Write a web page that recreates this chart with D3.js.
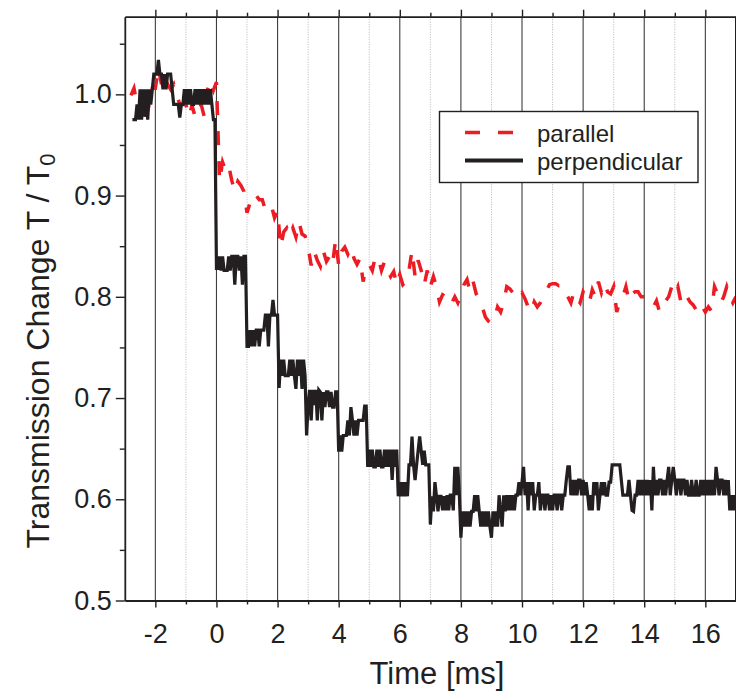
<!DOCTYPE html>
<html>
<head>
<meta charset="utf-8">
<script src="https://cdn.jsdelivr.net/npm/d3@7"></script>
<style>
  body { margin: 0; background: #fff; }
  svg { display: block; }
</style>
</head>
<body>
<div id="chart"></div>
<script>

//--------------------------------------
// DATA
//--------------------------------------

var xMajorTicks = [-2, 0, 2, 4, 6, 8, 10, 12, 14, 16];
var xMinorTicks = [-1, 1, 3, 5, 7, 9, 11, 13, 15];
var yMajorTicks = [0.5, 0.6, 0.7, 0.8, 0.9, 1.0];
var yMinorTicks = [0.55, 0.65, 0.75, 0.85, 0.95, 1.05];

var seriesNames = ["parallel", "perpendicular"];

// [time in ms, T / T0]
var parallel = [
  [-2.8,0.999],[-2.7,1.006],[-2.6,0.990],[-2.5,0.978],[-2.4,0.990],[-2.3,0.978],[-2.2,0.990],[-2.1,1.006],[-2.0,1.006],[-1.9,1.026],
  [-1.8,1.010],[-1.7,1.020],[-1.6,1.010],[-1.5,1.005],[-1.4,1.010],[-1.3,1.000],[-1.2,0.990],[-1.1,0.990],[-1.0,0.990],[-0.9,0.978],
  [-0.8,0.989],[-0.7,0.978],[-0.6,0.990],[-0.5,0.990],[-0.4,0.978],[-0.3,1.004],[-0.2,1.014],[-0.1,1.004],[0.0,1.012],[0.1,0.914],
  [0.2,0.933],[0.3,0.925],[0.4,0.930],[0.5,0.915],[0.6,0.904],[0.7,0.914],[0.8,0.910],[0.9,0.904],[1.0,0.883],[1.1,0.893],
  [1.2,0.902],[1.3,0.900],[1.4,0.896],[1.5,0.896],[1.6,0.886],[1.7,0.886],[1.8,0.890],[1.9,0.878],[2.0,0.885],[2.1,0.849],
  [2.2,0.864],[2.3,0.868],[2.4,0.860],[2.5,0.868],[2.6,0.859],[2.7,0.874],[2.8,0.862],[2.9,0.860],[3.0,0.849],[3.1,0.831],
  [3.2,0.845],[3.3,0.836],[3.4,0.830],[3.5,0.845],[3.6,0.835],[3.7,0.840],[3.8,0.832],[3.9,0.857],[4.0,0.831],[4.1,0.845],
  [4.2,0.849],[4.3,0.842],[4.4,0.849],[4.5,0.838],[4.6,0.832],[4.7,0.838],[4.8,0.815],[4.9,0.830],[5.0,0.832],[5.1,0.826],
  [5.2,0.840],[5.3,0.838],[5.4,0.826],[5.5,0.835],[5.6,0.826],[5.7,0.820],[5.8,0.825],[5.9,0.812],[6.0,0.822],[6.1,0.812],
  [6.2,0.815],[6.3,0.826],[6.4,0.846],[6.5,0.820],[6.6,0.836],[6.7,0.826],[6.8,0.812],[6.9,0.826],[7.0,0.810],[7.1,0.820],
  [7.2,0.810],[7.3,0.795],[7.4,0.802],[7.5,0.800],[7.6,0.802],[7.7,0.794],[7.8,0.800],[7.9,0.794],[8.0,0.802],[8.1,0.812],
  [8.2,0.817],[8.3,0.805],[8.4,0.815],[8.5,0.803],[8.6,0.797],[8.7,0.790],[8.8,0.780],[8.9,0.776],[9.0,0.774],[9.1,0.778],
  [9.2,0.790],[9.3,0.785],[9.4,0.794],[9.5,0.810],[9.6,0.808],[9.7,0.804],[9.8,0.806],[9.9,0.800],[10.0,0.804],[10.1,0.798],
  [10.2,0.790],[10.3,0.785],[10.4,0.795],[10.5,0.790],[10.6,0.794],[10.7,0.800],[10.8,0.806],[10.9,0.812],[11.0,0.813],[11.1,0.813],
  [11.2,0.811],[11.3,0.812],[11.4,0.805],[11.5,0.800],[11.6,0.794],[11.7,0.805],[11.8,0.798],[11.9,0.794],[12.0,0.805],[12.1,0.800],
  [12.2,0.794],[12.3,0.807],[12.4,0.800],[12.5,0.815],[12.6,0.804],[12.7,0.813],[12.8,0.805],[12.9,0.803],[13.0,0.810],[13.1,0.785],
  [13.2,0.795],[13.3,0.800],[13.4,0.810],[13.5,0.796],[13.6,0.803],[13.7,0.805],[13.8,0.805],[13.9,0.800],[14.0,0.800],[14.1,0.798],
  [14.2,0.795],[14.3,0.790],[14.4,0.796],[14.5,0.785],[14.6,0.793],[14.7,0.796],[14.8,0.800],[14.9,0.810],[15.0,0.803],[15.1,0.810],
  [15.2,0.795],[15.3,0.803],[15.4,0.800],[15.5,0.795],[15.6,0.792],[15.7,0.787],[15.8,0.783],[15.9,0.790],[16.0,0.785],[16.1,0.790],
  [16.2,0.786],[16.3,0.810],[16.4,0.803],[16.5,0.794],[16.6,0.800],[16.7,0.810],[16.8,0.800],[16.9,0.794],[17.0,0.800]
];

var perpendicular = [
  [-2.75,0.975],[-2.70,0.975],[-2.65,0.975],[-2.60,0.990],[-2.55,0.975],[-2.50,1.005],[-2.45,0.975],[-2.40,1.005],[-2.35,0.978],[-2.30,1.005],
  [-2.25,0.975],[-2.20,1.005],[-2.15,0.990],[-2.10,1.005],[-2.05,1.020],[-2.00,1.020],[-1.95,1.020],[-1.90,1.034],[-1.85,1.020],[-1.80,1.020],
  [-1.75,1.005],[-1.70,1.020],[-1.65,1.005],[-1.60,1.020],[-1.55,1.020],[-1.50,1.020],[-1.45,1.005],[-1.40,0.990],[-1.35,0.990],[-1.30,0.990],
  [-1.25,0.990],[-1.20,0.977],[-1.15,0.990],[-1.10,0.990],[-1.05,1.005],[-1.00,0.990],[-0.95,1.005],[-0.90,0.990],[-0.85,1.005],[-0.80,0.990],
  [-0.75,0.990],[-0.70,1.005],[-0.65,0.990],[-0.60,1.005],[-0.55,0.990],[-0.50,1.005],[-0.45,0.990],[-0.40,1.005],[-0.35,0.990],[-0.30,1.005],
  [-0.25,0.990],[-0.20,1.005],[-0.15,0.990],[-0.10,0.975],[-0.05,0.975],[0.00,0.828],[0.05,0.828],[0.10,0.840],[0.15,0.826],[0.20,0.840],
  [0.25,0.826],[0.30,0.826],[0.35,0.826],[0.40,0.840],[0.45,0.826],[0.50,0.840],[0.55,0.840],[0.60,0.812],[0.65,0.840],[0.70,0.840],
  [0.75,0.826],[0.80,0.840],[0.85,0.812],[0.90,0.840],[0.95,0.840],[1.00,0.751],[1.05,0.751],[1.10,0.767],[1.15,0.751],[1.20,0.767],
  [1.25,0.751],[1.30,0.767],[1.35,0.767],[1.40,0.751],[1.45,0.767],[1.50,0.767],[1.55,0.767],[1.60,0.782],[1.65,0.782],[1.70,0.751],
  [1.75,0.782],[1.80,0.782],[1.85,0.797],[1.90,0.782],[1.95,0.782],[2.00,0.782],[2.05,0.710],[2.10,0.738],[2.15,0.722],[2.20,0.738],
  [2.25,0.722],[2.30,0.722],[2.35,0.722],[2.40,0.738],[2.45,0.722],[2.50,0.738],[2.55,0.722],[2.60,0.709],[2.65,0.738],[2.70,0.722],
  [2.75,0.738],[2.80,0.709],[2.85,0.738],[2.90,0.722],[2.95,0.663],[3.00,0.693],[3.05,0.708],[3.10,0.678],[3.15,0.708],[3.20,0.693],
  [3.25,0.708],[3.30,0.678],[3.35,0.708],[3.40,0.706],[3.45,0.678],[3.50,0.706],[3.55,0.691],[3.60,0.706],[3.65,0.706],[3.70,0.691],
  [3.75,0.706],[3.80,0.691],[3.85,0.691],[3.90,0.706],[3.95,0.706],[4.00,0.647],[4.05,0.663],[4.10,0.647],[4.15,0.663],[4.20,0.663],
  [4.25,0.663],[4.30,0.678],[4.35,0.663],[4.40,0.691],[4.45,0.678],[4.50,0.663],[4.55,0.678],[4.60,0.663],[4.65,0.678],[4.70,0.678],
  [4.75,0.678],[4.80,0.678],[4.85,0.692],[4.90,0.692],[4.95,0.632],[5.00,0.649],[5.05,0.632],[5.10,0.649],[5.15,0.632],[5.20,0.632],
  [5.25,0.649],[5.30,0.632],[5.35,0.649],[5.40,0.632],[5.45,0.632],[5.50,0.649],[5.55,0.632],[5.60,0.649],[5.65,0.632],[5.70,0.649],
  [5.75,0.619],[5.80,0.649],[5.85,0.632],[5.90,0.649],[5.95,0.603],[6.00,0.617],[6.05,0.603],[6.10,0.617],[6.15,0.603],[6.20,0.617],
  [6.25,0.603],[6.30,0.634],[6.35,0.634],[6.40,0.662],[6.45,0.634],[6.50,0.619],[6.55,0.634],[6.60,0.648],[6.65,0.662],[6.70,0.648],
  [6.75,0.634],[6.80,0.648],[6.85,0.634],[6.90,0.634],[6.95,0.634],[7.00,0.575],[7.05,0.603],[7.10,0.588],[7.15,0.617],[7.20,0.603],
  [7.25,0.588],[7.30,0.603],[7.35,0.603],[7.40,0.589],[7.45,0.603],[7.50,0.589],[7.55,0.604],[7.60,0.589],[7.65,0.604],[7.70,0.604],
  [7.75,0.589],[7.80,0.632],[7.85,0.604],[7.90,0.632],[7.95,0.604],[8.00,0.562],[8.05,0.588],[8.10,0.573],[8.15,0.588],[8.20,0.573],
  [8.25,0.588],[8.30,0.573],[8.35,0.588],[8.40,0.588],[8.45,0.604],[8.50,0.588],[8.55,0.604],[8.60,0.588],[8.65,0.573],[8.70,0.588],
  [8.75,0.573],[8.80,0.588],[8.85,0.573],[8.90,0.588],[8.95,0.573],[9.00,0.562],[9.05,0.588],[9.10,0.573],[9.15,0.588],[9.20,0.573],
  [9.25,0.604],[9.30,0.588],[9.35,0.573],[9.40,0.604],[9.45,0.588],[9.50,0.604],[9.55,0.589],[9.60,0.604],[9.65,0.589],[9.70,0.604],
  [9.75,0.589],[9.80,0.604],[9.85,0.604],[9.90,0.617],[9.95,0.604],[10.00,0.617],[10.05,0.632],[10.10,0.604],[10.15,0.617],[10.20,0.589],
  [10.25,0.617],[10.30,0.604],[10.35,0.617],[10.40,0.589],[10.45,0.604],[10.50,0.604],[10.55,0.617],[10.60,0.589],[10.65,0.604],[10.70,0.604],
  [10.75,0.589],[10.80,0.604],[10.85,0.604],[10.90,0.589],[10.95,0.604],[11.00,0.589],[11.05,0.604],[11.10,0.604],[11.15,0.589],[11.20,0.604],
  [11.25,0.604],[11.30,0.589],[11.35,0.604],[11.40,0.604],[11.45,0.619],[11.50,0.632],[11.55,0.632],[11.60,0.604],[11.65,0.619],[11.70,0.604],
  [11.75,0.619],[11.80,0.604],[11.85,0.619],[11.90,0.619],[11.95,0.604],[12.00,0.619],[12.05,0.604],[12.10,0.617],[12.15,0.604],[12.20,0.589],
  [12.25,0.604],[12.30,0.589],[12.35,0.617],[12.40,0.604],[12.45,0.617],[12.50,0.589],[12.55,0.604],[12.60,0.617],[12.65,0.604],[12.70,0.617],
  [12.75,0.604],[12.80,0.604],[12.85,0.617],[12.90,0.617],[12.95,0.634],[13.00,0.634],[13.05,0.634],[13.10,0.634],[13.15,0.634],[13.20,0.634],
  [13.25,0.619],[13.30,0.604],[13.35,0.604],[13.40,0.604],[13.45,0.604],[13.50,0.619],[13.55,0.604],[13.60,0.589],[13.65,0.588],[13.70,0.604],
  [13.75,0.604],[13.80,0.619],[13.85,0.604],[13.90,0.619],[13.95,0.604],[14.00,0.619],[14.05,0.604],[14.10,0.619],[14.15,0.604],[14.20,0.619],
  [14.25,0.589],[14.30,0.632],[14.35,0.604],[14.40,0.619],[14.45,0.604],[14.50,0.619],[14.55,0.619],[14.60,0.604],[14.65,0.619],[14.70,0.604],
  [14.75,0.619],[14.80,0.632],[14.85,0.604],[14.90,0.619],[14.95,0.632],[15.00,0.619],[15.05,0.604],[15.10,0.619],[15.15,0.619],[15.20,0.604],
  [15.25,0.619],[15.30,0.619],[15.35,0.604],[15.40,0.619],[15.45,0.604],[15.50,0.604],[15.55,0.619],[15.60,0.604],[15.65,0.604],[15.70,0.619],
  [15.75,0.604],[15.80,0.604],[15.85,0.619],[15.90,0.604],[15.95,0.619],[16.00,0.604],[16.05,0.619],[16.10,0.604],[16.15,0.619],[16.20,0.604],
  [16.25,0.619],[16.30,0.604],[16.35,0.632],[16.40,0.619],[16.45,0.604],[16.50,0.619],[16.55,0.619],[16.60,0.604],[16.65,0.619],[16.70,0.604],
  [16.75,0.619],[16.80,0.589],[16.85,0.604],[16.90,0.589],[16.95,0.604],[17.00,0.589]
];


//--------------------------------------
// SETUP
//--------------------------------------

var W = 736, H = 692;
var fontFamily = "'Liberation Sans', Arial, Helvetica, sans-serif";
var ink = "#231f20";
var red = "#ed1c24";

var x = d3.scaleLinear().domain([-3, 17]).range([124.8, 735.9]);
var y = d3.scaleLinear().domain([0.5, 1.0767]).range([600.5, 16.7]);

var svg = d3.select("#chart").append("svg")
  .attr("width", W)
  .attr("height", H)
  .style("background", "#fff");

svg.append("clipPath").attr("id", "plotClip")
  .append("rect")
  .attr("x", x.range()[0])
  .attr("y", y.range()[1])
  .attr("width", x.range()[1] - x.range()[0])
  .attr("height", y.range()[0] - y.range()[1]);


//--------------------------------------
// GRID
//--------------------------------------

var grid = svg.append("g");

grid.selectAll("line.minor")
  .data(xMinorTicks)
  .enter().append("line")
    .attr("class", "minor")
    .attr("x1", function (d) { return x(d); })
    .attr("x2", function (d) { return x(d); })
    .attr("y1", y.range()[1])
    .attr("y2", y.range()[0])
    .attr("stroke", "#b5b5b5")
    .attr("stroke-width", 1)
    .attr("stroke-dasharray", "1,1.5");

grid.selectAll("line.major")
  .data(xMajorTicks)
  .enter().append("line")
    .attr("class", "major")
    .attr("x1", function (d) { return x(d); })
    .attr("x2", function (d) { return x(d); })
    .attr("y1", y.range()[1])
    .attr("y2", y.range()[0])
    .attr("stroke", "#3d3d3d")
    .attr("stroke-width", 1.1);


//--------------------------------------
// DATA LINES
//--------------------------------------

var line = d3.line()
  .x(function (d) { return x(d[0]); })
  .y(function (d) { return y(d[1]); });

var plot = svg.append("g").attr("clip-path", "url(#plotClip)");

plot.append("path")
  .datum(parallel)
  .attr("d", line)
  .attr("fill", "none")
  .attr("stroke", red)
  .attr("stroke-width", 3.5)
  .attr("stroke-dasharray", "14,16");

plot.append("path")
  .datum(perpendicular)
  .attr("d", line)
  .attr("fill", "none")
  .attr("stroke", ink)
  .attr("stroke-width", 3.2);


//--------------------------------------
// AXES
//--------------------------------------

function styleAxis(g, fontSize) {
  g.selectAll("path.domain").attr("stroke", ink).attr("stroke-width", 1.8);
  g.selectAll(".tick line").attr("stroke", ink).attr("stroke-width", 1.4);
  g.selectAll(".tick text")
    .attr("fill", ink)
    .attr("font-family", fontFamily)
    .attr("font-size", fontSize);
}

var y0 = y.range()[0], yTop = y.range()[1];

// bottom
var bottomAxis = svg.append("g").attr("transform", "translate(0," + y0 + ")");
bottomAxis.call(d3.axisBottom(x).tickValues(xMajorTicks).tickSize(7).tickSizeOuter(0).tickPadding(16)
  .tickFormat(function (d) { return String(d); }));
styleAxis(bottomAxis, 27);
var bottomMinor = svg.append("g").attr("transform", "translate(0," + y0 + ")");
bottomMinor.call(d3.axisBottom(x).tickValues(xMinorTicks).tickSize(4).tickFormat(""));
bottomMinor.select("path.domain").remove();
styleAxis(bottomMinor, 27);

// top
var topAxis = svg.append("g").attr("transform", "translate(0," + yTop + ")");
topAxis.call(d3.axisTop(x).tickValues(xMajorTicks).tickSize(7).tickSizeOuter(0).tickFormat(""));
styleAxis(topAxis, 27);
var topMinor = svg.append("g").attr("transform", "translate(0," + yTop + ")");
topMinor.call(d3.axisTop(x).tickValues(xMinorTicks).tickSize(4).tickFormat(""));
topMinor.select("path.domain").remove();
styleAxis(topMinor, 27);

// left
var leftAxis = svg.append("g").attr("transform", "translate(" + x.range()[0] + ",0)");
leftAxis.call(d3.axisLeft(y).tickValues(yMajorTicks).tickSize(9).tickSizeOuter(0).tickPadding(4)
  .tickFormat(d3.format(".1f")));
styleAxis(leftAxis, 27);
var leftMinor = svg.append("g").attr("transform", "translate(" + x.range()[0] + ",0)");
leftMinor.call(d3.axisLeft(y).tickValues(yMinorTicks).tickSize(5).tickFormat(""));
leftMinor.select("path.domain").remove();
styleAxis(leftMinor, 27);

// right edge
svg.append("line")
  .attr("x1", x.range()[1]).attr("x2", x.range()[1])
  .attr("y1", yTop).attr("y2", y0)
  .attr("stroke", ink).attr("stroke-width", 1.8);


//--------------------------------------
// TITLES
//--------------------------------------

svg.append("text")
  .attr("x", 437)
  .attr("y", 684)
  .attr("text-anchor", "middle")
  .attr("font-family", fontFamily)
  .attr("font-size", 31)
  .attr("fill", ink)
  .text("Time [ms]");

var yTitle = svg.append("text")
  .attr("transform", "translate(49,351) rotate(-90)")
  .attr("text-anchor", "middle")
  .attr("font-family", fontFamily)
  .attr("font-size", 32)
  .attr("fill", ink);
yTitle.append("tspan").text("Transmission Change T / T");
yTitle.append("tspan").attr("font-size", 22).attr("dy", 6).text("0");


//--------------------------------------
// LEGEND
//--------------------------------------

var legend = svg.append("g").attr("transform", "translate(439.5,111.5)");

legend.append("rect")
  .attr("width", 258.5)
  .attr("height", 71)
  .attr("fill", "#fff")
  .attr("stroke", ink)
  .attr("stroke-width", 1.4);

var legendItems = [
  { name: seriesNames[0], color: red, width: 3.5, dash: "15,18", ly: 21 },
  { name: seriesNames[1], color: ink, width: 4, dash: null, ly: 49 }
];

legendItems.forEach(function (item) {
  legend.append("line")
    .attr("x1", 25.5).attr("x2", 83.5)
    .attr("y1", item.ly).attr("y2", item.ly)
    .attr("stroke", item.color)
    .attr("stroke-width", item.width)
    .attr("stroke-dasharray", item.dash);

  legend.append("text")
    .attr("x", 97.5)
    .attr("y", item.ly + 9)
    .attr("font-family", fontFamily)
    .attr("font-size", 24)
    .attr("fill", ink)
    .text(item.name);
});

</script>
</body>
</html>
